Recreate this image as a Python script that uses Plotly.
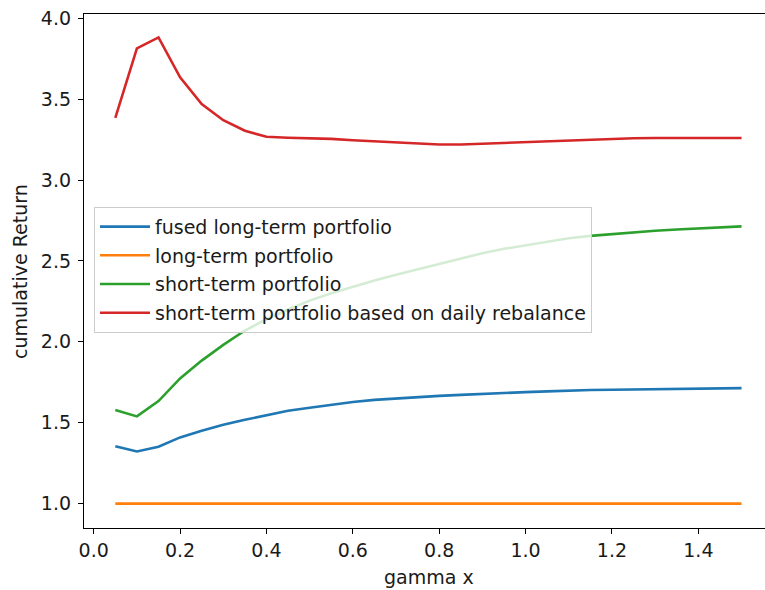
import plotly.graph_objects as go

# gamma grid and cumulative returns of each portfolio
gamma = [0.05, 0.10, 0.15, 0.20, 0.25, 0.30, 0.35, 0.40, 0.45, 0.50,
         0.55, 0.60, 0.65, 0.70, 0.75, 0.80, 0.85, 0.90, 0.95, 1.00,
         1.05, 1.10, 1.15, 1.20, 1.25, 1.30, 1.35, 1.40, 1.45, 1.50]

fused_long = [1.355, 1.322, 1.351, 1.409, 1.450, 1.487, 1.518, 1.547, 1.574, 1.593,
              1.612, 1.628, 1.641, 1.650, 1.658, 1.666, 1.672, 1.679, 1.685, 1.689,
              1.694, 1.699, 1.702, 1.704, 1.706, 1.708, 1.710, 1.711, 1.713, 1.714]

long_term = [1.0] * 30

short_term = [1.578, 1.539, 1.634, 1.774, 1.884, 1.981, 2.070, 2.140, 2.200, 2.255,
              2.300, 2.340, 2.380, 2.415, 2.449, 2.480, 2.515, 2.548, 2.575, 2.597,
              2.620, 2.640, 2.655, 2.667, 2.678, 2.687, 2.695, 2.702, 2.708, 2.714]

short_daily = [3.385, 3.815, 3.882, 3.635, 3.470, 3.370, 3.305, 3.268, 3.262, 3.260,
               3.255, 3.246, 3.240, 3.234, 3.225, 3.220, 3.220, 3.225, 3.232, 3.238,
               3.242, 3.247, 3.252, 3.256, 3.259, 3.260, 3.259, 3.259, 3.259, 3.260]

series_names = ["fused long-term portfolio", "long-term portfolio",
                "short-term portfolio", "short-term portfolio based on daily rebalance"]
series_values = [fused_long, long_term, short_term, short_daily]
colors = ["#1f77b4", "#ff7f0e", "#2ca02c", "#d62728"]

FONT = "DejaVu Sans"
FS = 19

fig = go.Figure()
for i, (name, vals, col) in enumerate(zip(series_names, series_values, colors)):
    fig.add_trace(go.Scatter(
        x=gamma, y=vals, mode="lines", name=name,
        line=dict(color=col, width=2.6),
        legendgroup=f"g{i}",
    ))

axis_common = dict(
    showline=True, linecolor="black", linewidth=1.3,
    ticks="outside", ticklen=5, tickwidth=1.3, tickcolor="black",
    showgrid=False, zeroline=False, tickformat=".1f",
    tickfont=dict(family=FONT, size=FS, color="#1a1a1a"),
)

fig.update_layout(
    width=765, height=590,
    margin=dict(l=84, r=0, t=14, b=62),
    plot_bgcolor="white", paper_bgcolor="white",
    font=dict(family=FONT, size=FS, color="#1a1a1a"),
    xaxis=dict(range=[-0.0225, 1.5543], dtick=0.2, tick0=0, mirror=True, **axis_common),
    yaxis=dict(range=[0.849, 4.027], dtick=0.5, tick0=0, ticklabelstandoff=3,
               **axis_common),
    legend=dict(
        x=0.0147, y=0.625, xanchor="left", yanchor="top",
        bgcolor="rgba(255,255,255,0.8)", bordercolor="#cccccc", borderwidth=1,
        font=dict(family=FONT, size=FS, color="#1a1a1a"),
        traceorder="grouped", tracegroupgap=1, itemwidth=50,
    ),
    showlegend=True,
    annotations=[
        dict(text="gamma x", xref="paper", yref="paper", x=0.506, y=-0.0953,
             xanchor="center", yanchor="middle", showarrow=False,
             font=dict(family=FONT, size=FS, color="#1a1a1a")),
        dict(text="cumulative Return", xref="paper", yref="paper", x=-0.094, y=0.5,
             xanchor="center", yanchor="middle", showarrow=False, textangle=-90,
             font=dict(family=FONT, size=FS, color="#1a1a1a")),
    ],
)

fig.write_html("out.html")
